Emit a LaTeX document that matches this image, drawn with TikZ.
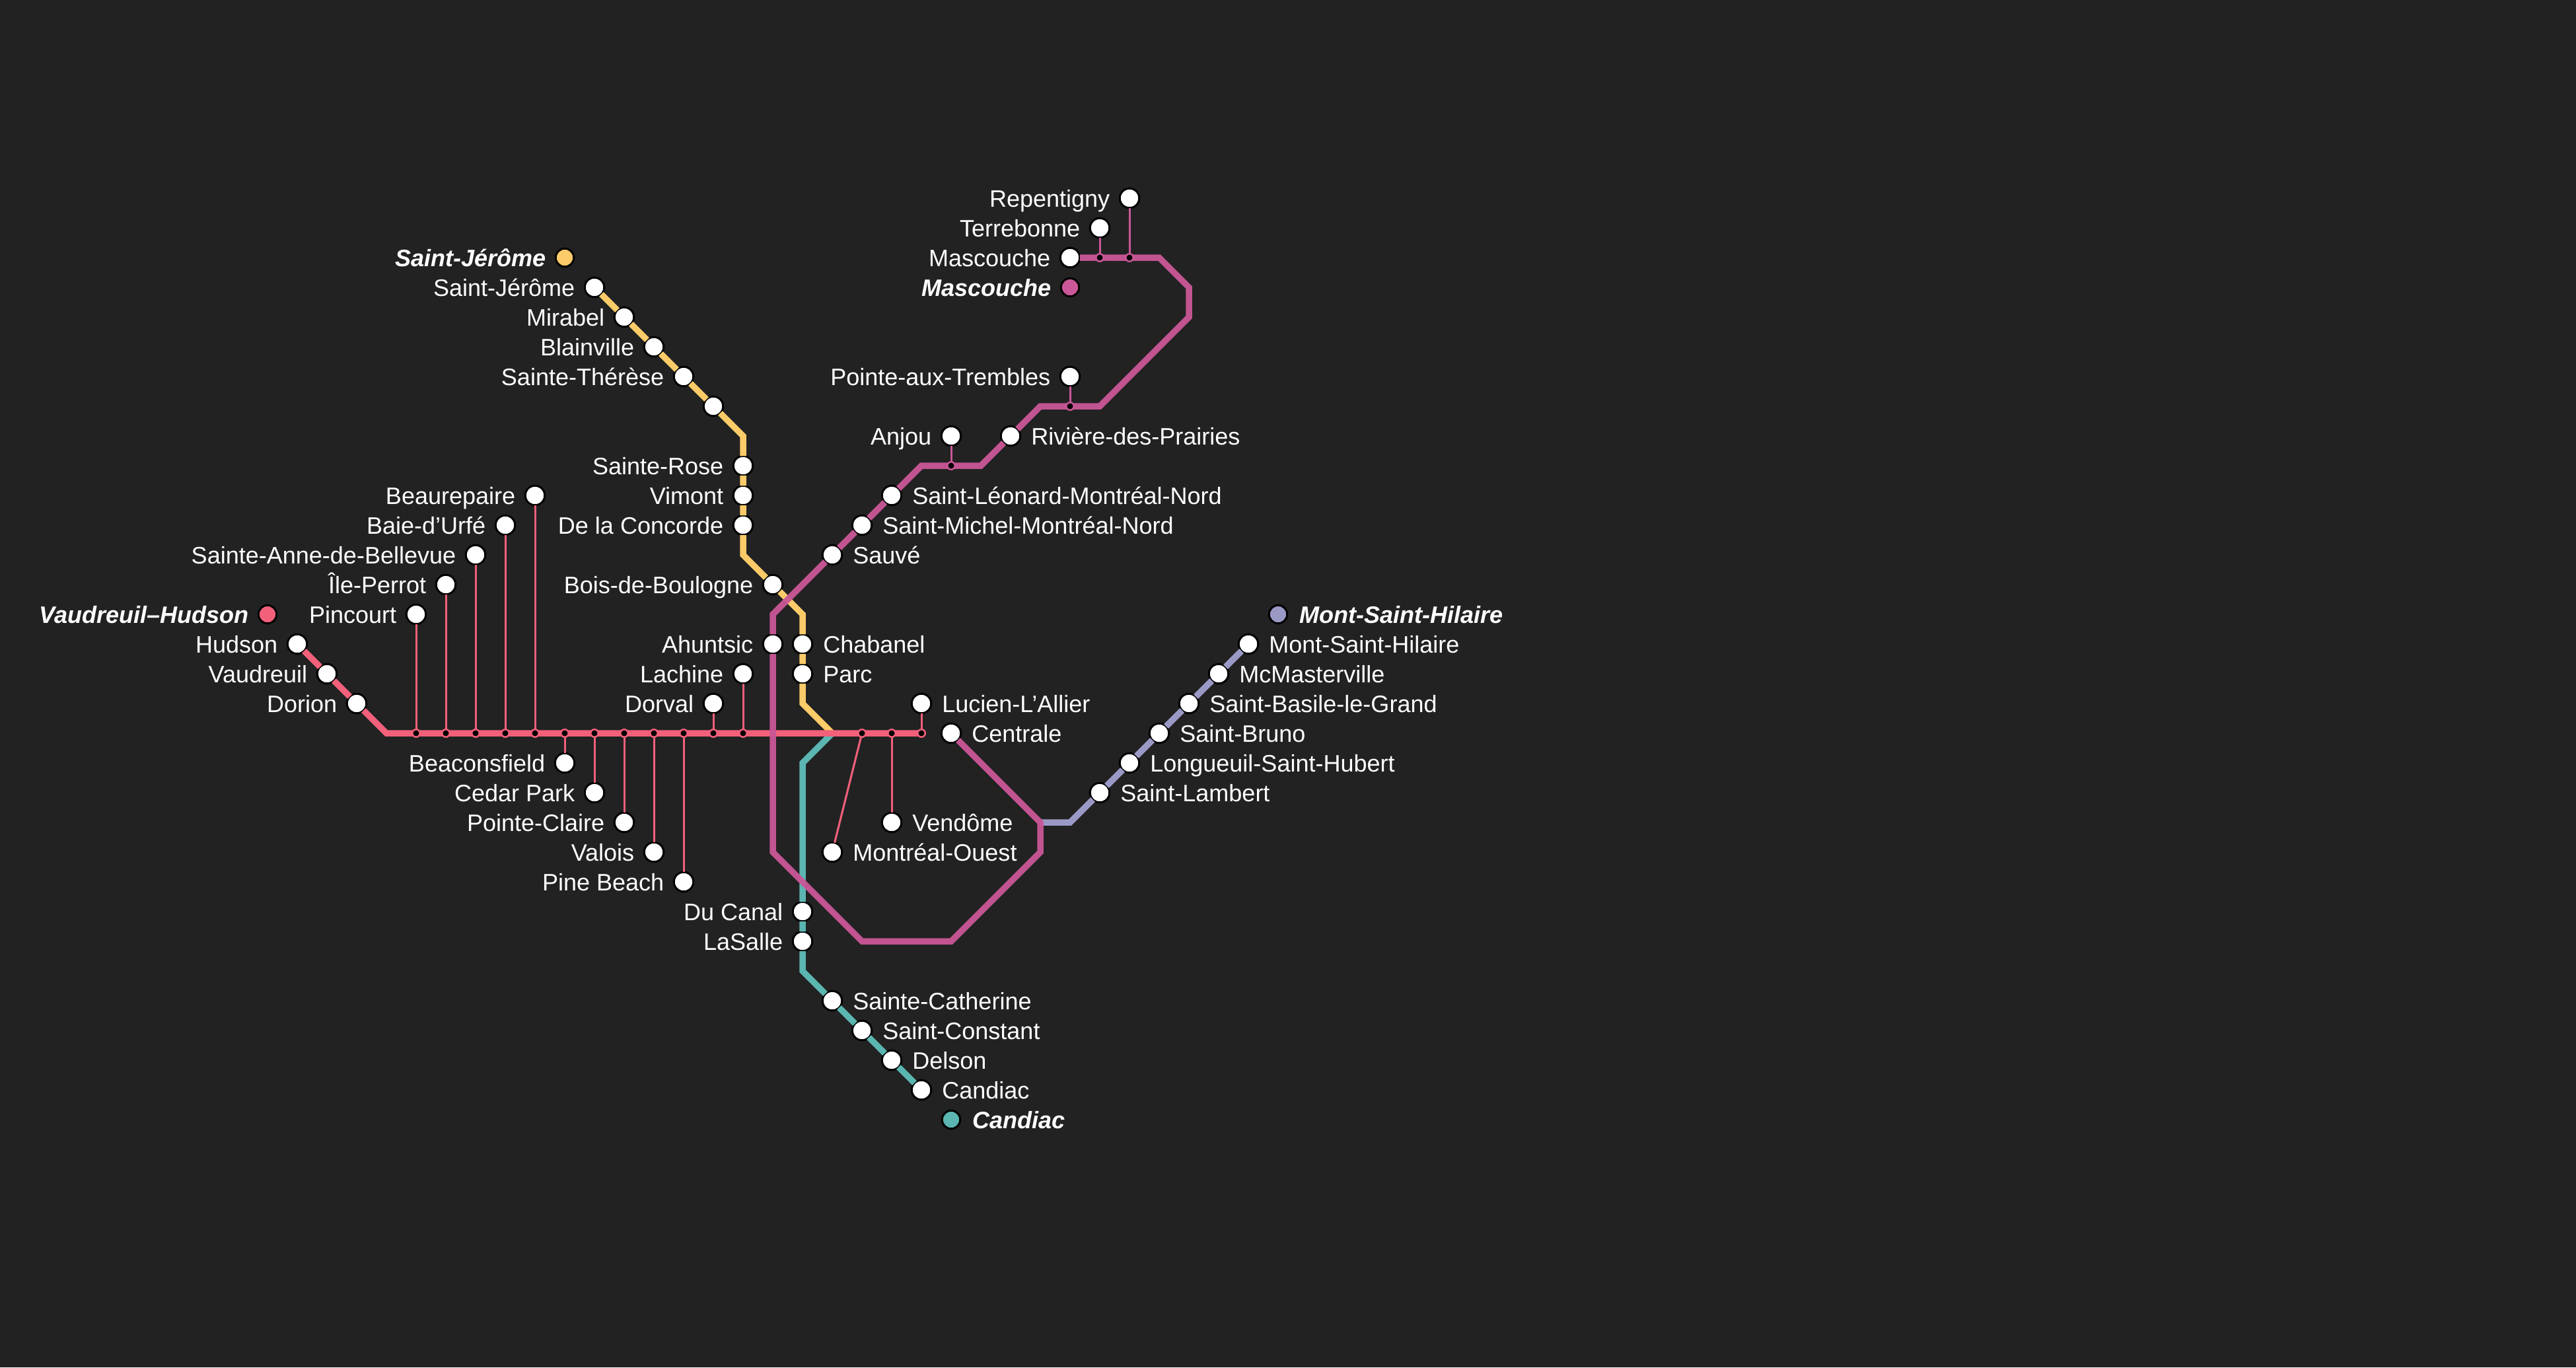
\documentclass[tikz,border=0pt]{standalone}
\usepackage{fontspec}
\setmainfont{Liberation Sans}
\usetikzlibrary{positioning}
\definecolor{night}{HTML}{222222}
\definecolor{redline}{HTML}{F2607A}
\definecolor{yellowline}{HTML}{FCCB69}
\definecolor{magentaline}{HTML}{CA5798}
\definecolor{tealline}{HTML}{5BB5B1}
\definecolor{lilacline}{HTML}{9A99C6}
\tikzstyle{station}=[circle, fill=white, minimum size=.295cm, line width=.03cm, inner sep=0pt, outer sep=0pt, draw=black]
\tikzstyle{terminus}=[station, minimum size=.275cm]
\tikzstyle{junction}=[circle, fill=black, minimum size=.115cm, line width=.025cm, inner sep=0pt, outer sep=0pt]
\tikzstyle{stopname}=[inner sep=0pt, outer sep=0pt, text=white, font=\fontsize{10.25pt}{12pt}\selectfont, text height=.27cm, text depth=0pt]
\tikzstyle{linename}=[stopname, font=\fontsize{10.25pt}{12pt}\selectfont\bfseries\itshape]
\tikzstyle{track}=[draw, line width=.095cm, line join=miter, -]
\tikzstyle{branch}=[draw, line width=.03cm, -]
\begin{document}
\begin{tikzpicture}[x=.45cm, y=-.45cm, node distance=.15cm]

				\useasboundingbox (0, -.6667) rectangle (86.6667, 45.3333);
				\fill[night] (0, -.6667) rectangle (86.6667, 45.3333);

				% Saint-Jerome
				\node[terminus, fill=yellowline] (y_0) at (19, 8) {};
				\node[linename, left=of y_0] (yt_0) {Saint-Jérôme};
				\node[station] (y_1) at (20, 9) {};
				\node[stopname, left=of y_1] (yt_1) {Saint-Jérôme};
				\node[station] (y_2) at (21, 10) {};
				\node[stopname, left=of y_2] (yt_2) {Mirabel};
				\node[station] (y_3) at (22, 11) {};
				\node[stopname, left=of y_3] (yt_3) {Blainville};
				\node[station] (y_4) at (23, 12) {};
				\node[stopname, left=of y_4] (yt_4) {Sainte-Thérèse};
				\node[station] (y_5) at (24, 13) {};
				\node[station] (y_6) at (25, 15) {};
				\node[stopname, left=of y_6] (yt_6) {Sainte-Rose};
				\node[station] (y_7) at (25, 16) {};
				\node[stopname, left=of y_7] (yt_7) {Vimont};
				\node[station] (y_8) at (25, 17) {};
				\node[stopname, left=of y_8] (yt_8) {De la Concorde};
				\node[station] (y_9) at (26, 19) {};
				\node[stopname, left=of y_9] (yt_9) {Bois-de-Boulogne};
				\node[station] (y_10) at (27, 21) {};
				\node[stopname, right=.165cm of y_10] (yt_10) {Chabanel};
				\node[station] (y_11) at (27, 22) {};
				\node[stopname, right=.165cm of y_11] (yt_11) {Parc};

				% Mascouche
				\node[terminus, fill=magentaline] (m_0) at (36, 9) {};
				\node[linename, left=of m_0] (mt_0) {Mascouche};
				\node[station] (m_1) at (36, 8) {};
				\node[stopname, left=of m_1] (mt_1) {Mascouche};
				\node[station] (m_2) at (37, 7) {};
				\node[stopname, left=of m_2] (mt_2) {Terrebonne};
				\node[station] (m_3) at (38, 6) {};
				\node[stopname, left=of m_3] (mt_3) {Repentigny};
				\node[station] (m_4) at (36, 12) {};
				\node[stopname, left=of m_4] (mt_4) {Pointe-aux-Trembles};
				\node[station] (m_5) at (34, 14) {};
				\node[stopname, right=.165cm of m_5] (mt_5) {Rivière-des-Prairies};
				\node[station] (m_6) at (32, 14) {};
				\node[stopname, left=of m_6] (mt_6) {Anjou};
				\node[station] (m_7) at (30, 16) {};
				\node[stopname, right=.165cm of m_7] (mt_7) {Saint-Léonard-Montréal-Nord};
				\node[station] (m_8) at (29, 17) {};
				\node[stopname, right=.165cm of m_8] (mt_8) {Saint-Michel-Montréal-Nord};
				\node[station] (m_9) at (28, 18) {};
				\node[stopname, right=.165cm of m_9] (mt_9) {Sauvé};
				\node[station] (m_10) at (26, 21) {};
				\node[stopname, left=of m_10] (mt_10) {Ahuntsic};
				\node[station] (m_11) at (32, 24) {};
				\node[stopname, right=.165cm of m_11] (mt_11) {Centrale};

				% Vaudreuil-Hudson
				\node[terminus, fill=redline] (r_0) at (9, 20) {};
				\node[linename, left=of r_0] (rt_0) {Vaudreuil–Hudson};
				\node[station] (r_1) at (10, 21) {};
				\node[stopname, left=of r_1] (rt_1) {Hudson};
				\node[station] (r_2) at (11, 22) {};
				\node[stopname, left=of r_2] (rt_2) {Vaudreuil};
				\node[station] (r_3) at (12, 23) {};
				\node[stopname, left=of r_3] (rt_3) {Dorion};
				\node[station] (r_4) at (14, 20) {};
				\node[stopname, left=of r_4] (rt_4) {Pincourt};
				\node[station] (r_5) at (15, 19) {};
				\node[stopname, left=of r_5] (rt_5) {Île-Perrot};
				\node[station] (r_6) at (16, 18) {};
				\node[stopname, left=of r_6] (rt_6) {Sainte-Anne-de-Bellevue};
				\node[station] (r_7) at (17, 17) {};
				\node[stopname, left=of r_7] (rt_7) {Baie-d'Urfé};
				\node[station] (r_8) at (18, 16) {};
				\node[stopname, left=of r_8] (rt_8) {Beaurepaire};
				\node[station] (r_9) at (19, 25) {};
				\node[stopname, left=of r_9] (rt_9) {Beaconsfield};
				\node[station] (r_10) at (20, 26) {};
				\node[stopname, left=of r_10] (rt_10) {Cedar Park};
				\node[station] (r_11) at (21, 27) {};
				\node[stopname, left=of r_11] (rt_11) {Pointe-Claire};
				\node[station] (r_12) at (22, 28) {};
				\node[stopname, left=of r_12] (rt_12) {Valois};
				\node[station] (r_13) at (23, 29) {};
				\node[stopname, left=of r_13] (rt_13) {Pine Beach};
				\node[station] (r_14) at (24, 23) {};
				\node[stopname, left=of r_14] (rt_14) {Dorval};
				\node[station] (r_15) at (25, 22) {};
				\node[stopname, left=of r_15] (rt_15) {Lachine};
				\node[station] (r_16) at (28, 28) {};
				\node[stopname, right=.165cm of r_16] (rt_16) {Montréal-Ouest};
				\node[station] (r_17) at (30, 27) {};
				\node[stopname, right=.165cm of r_17] (rt_17) {Vendôme};
				\node[station] (r_18) at (31, 23) {};
				\node[stopname, right=.165cm of r_18] (rt_18) {Lucien-L'Allier};

				% Candiac
				\node[station] (t_1) at (27, 30) {};
				\node[stopname, left=of t_1] (tt_1) {Du Canal};
				\node[station] (t_2) at (27, 31) {};
				\node[stopname, left=of t_2] (tt_2) {LaSalle};
				\node[station] (t_3) at (28, 33) {};
				\node[stopname, right=.165cm of t_3] (tt_3) {Sainte-Catherine};
				\node[station] (t_4) at (29, 34) {};
				\node[stopname, right=.165cm of t_4] (tt_4) {Saint-Constant};
				\node[station] (t_5) at (30, 35) {};
				\node[stopname, right=.165cm of t_5] (tt_5) {Delson};
				\node[station] (t_6) at (31, 36) {};
				\node[stopname, right=.165cm of t_6] (tt_6) {Candiac};
				\node[terminus, fill=tealline] (t_0) at (32, 37) {};
				\node[linename, right=.19cm of t_0] (tt_0) {Candiac};

				% Mont-Saint-Hilaire
				\node[station] (l_1) at (37, 26) {};
				\node[stopname, right=.165cm of l_1] (lt_1) {Saint-Lambert};
				\node[station] (l_2) at (38, 25) {};
				\node[stopname, right=.165cm of l_2] (lt_2) {Longueuil-Saint-Hubert};
				\node[station] (l_3) at (39, 24) {};
				\node[stopname, right=.165cm of l_3] (lt_3) {Saint-Bruno};
				\node[station] (l_4) at (40, 23) {};
				\node[stopname, right=.165cm of l_4] (lt_4) {Saint-Basile-le-Grand};
				\node[station] (l_5) at (41, 22) {};
				\node[stopname, right=.165cm of l_5] (lt_5) {McMasterville};
				\node[station] (l_6) at (42, 21) {};
				\node[stopname, right=.165cm of l_6] (lt_6) {Mont-Saint-Hilaire};
				\node[terminus, fill=lilacline] (l_0) at (43, 20) {};
				\node[linename, right=.19cm of l_0] (lt_0) {Mont-Saint-Hilaire};

				% bends
				\coordinate (yb_1) at (25, 14);
				\coordinate (yb_2) at (25, 18);
				\coordinate (yb_3) at (27, 20);
				\coordinate (yb_4) at (27, 23);
				\coordinate (c_1) at (28, 24);
				\coordinate (tb_1) at (27, 25);
				\coordinate (tb_2) at (27, 32);
				\coordinate (lb_1) at (36, 27);
				\coordinate (c_2) at (35, 27);
				\coordinate (rb_1) at (13, 24);
				\coordinate (rb_2) at (31, 24);
				\coordinate (mb_1) at (39, 8);
				\coordinate (mb_2) at (40, 9);
				\coordinate (mb_3) at (40, 10);
				\coordinate (mb_4) at (37, 13);
				\coordinate (mb_5) at (35, 13);
				\coordinate (mb_6) at (33, 15);
				\coordinate (mb_7) at (31, 15);
				\coordinate (mb_8) at (26, 20);
				\coordinate (mb_9) at (26, 28);
				\coordinate (mb_10) at (29, 31);
				\coordinate (mb_11) at (32, 31);
				\coordinate (mb_12) at (35, 28);

				\draw[track, yellowline] (y_1) -- (y_2) -- (y_3) -- (y_4) -- (y_5) -- (yb_1) -- (y_6) -- (y_7) -- (y_8) -- (yb_2) -- (y_9) -- (yb_3) -- (y_10) -- (y_11) -- (yb_4) -- (c_1);
				\draw[track, tealline] (c_1) -- (tb_1) -- (t_1) -- (t_2) -- (tb_2) -- (t_3) -- (t_4) -- (t_5) -- (t_6);
				\draw[track, lilacline] (c_2) -- (lb_1) -- (l_1) -- (l_2) -- (l_3) -- (l_4) -- (l_5) -- (l_6);
				\draw[track, redline] (r_1) -- (r_2) -- (r_3) -- (rb_1) -- (rb_2);
				\draw[track, magentaline, opacity=.95] (m_1) -- (mb_1) -- (mb_2) -- (mb_3) -- (mb_4) -- (mb_5) -- (m_5) -- (mb_6) -- (mb_7) -- (m_7) -- (m_8) -- (m_9) -- (mb_8) -- (m_10) -- (mb_9) -- (mb_10) -- (mb_11) -- (mb_12) -- (c_2) -- (m_11);

				% small stops on the tracks
				\node[junction, draw=redline] (j_4) at (14, 24) {};
				\node[junction, draw=redline] (j_5) at (15, 24) {};
				\node[junction, draw=redline] (j_6) at (16, 24) {};
				\node[junction, draw=redline] (j_7) at (17, 24) {};
				\node[junction, draw=redline] (j_8) at (18, 24) {};
				\node[junction, draw=redline] (j_9) at (19, 24) {};
				\node[junction, draw=redline] (j_10) at (20, 24) {};
				\node[junction, draw=redline] (j_11) at (21, 24) {};
				\node[junction, draw=redline] (j_12) at (22, 24) {};
				\node[junction, draw=redline] (j_13) at (23, 24) {};
				\node[junction, draw=redline] (j_14) at (24, 24) {};
				\node[junction, draw=redline] (j_15) at (25, 24) {};
				\node[junction, draw=redline] (j_16) at (29, 24) {};
				\node[junction, draw=redline] (j_17) at (30, 24) {};
				\node[junction, draw=redline] (j_18) at (31, 24) {};
				\node[junction, draw=magentaline] (k_2) at (37, 8) {};
				\node[junction, draw=magentaline] (k_3) at (38, 8) {};
				\node[junction, draw=magentaline] (k_4) at (36, 13) {};
				\node[junction, draw=magentaline] (k_6) at (32, 15) {};

				\draw[branch, redline] (j_4) -- (r_4);
				\draw[branch, redline] (j_5) -- (r_5);
				\draw[branch, redline] (j_6) -- (r_6);
				\draw[branch, redline] (j_7) -- (r_7);
				\draw[branch, redline] (j_8) -- (r_8);
				\draw[branch, redline] (j_9) -- (r_9);
				\draw[branch, redline] (j_10) -- (r_10);
				\draw[branch, redline] (j_11) -- (r_11);
				\draw[branch, redline] (j_12) -- (r_12);
				\draw[branch, redline] (j_13) -- (r_13);
				\draw[branch, redline] (j_14) -- (r_14);
				\draw[branch, redline] (j_15) -- (r_15);
				\draw[branch, redline] (j_16) -- (r_16);
				\draw[branch, redline] (j_17) -- (r_17);
				\draw[branch, redline] (j_18) -- (r_18);
				\draw[branch, magentaline] (k_2) -- (m_2);
				\draw[branch, magentaline] (k_3) -- (m_3);
				\draw[branch, magentaline] (k_4) -- (m_4);
				\draw[branch, magentaline] (k_6) -- (m_6);
			\end{tikzpicture}
\end{document}
